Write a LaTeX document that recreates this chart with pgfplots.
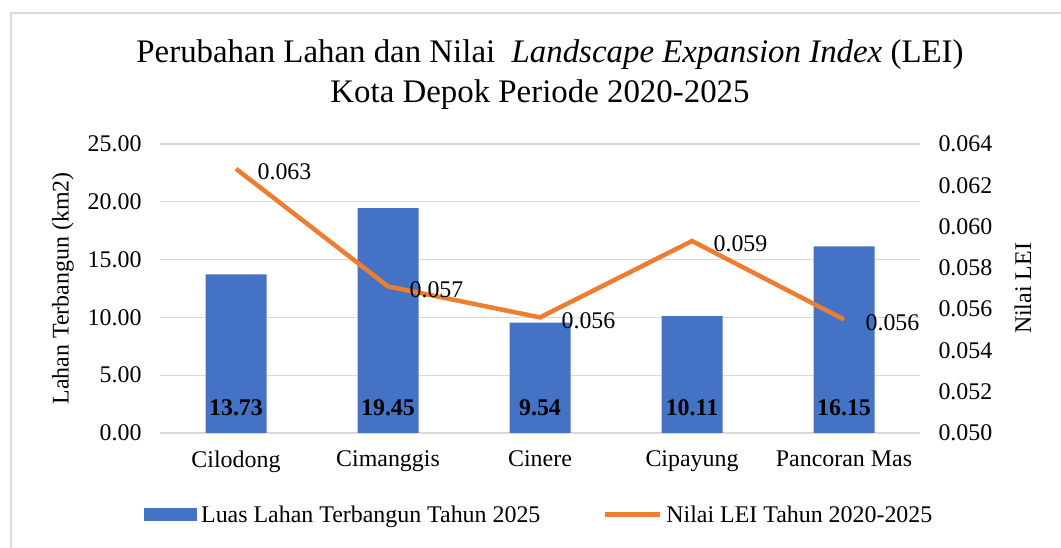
\documentclass[border=0pt]{standalone}
\usepackage{pgfplots}
\pgfplotsset{compat=1.18}
\usepackage{fontspec}
\setmainfont{Liberation Serif}
\definecolor{barblue}{HTML}{4472C4}
\definecolor{lineorange}{HTML}{ED7D31}
\definecolor{gridgray}{HTML}{D9D9D9}
\begin{document}
\begin{tikzpicture}[x=1bp,y=1bp]
\path[use as bounding box] (0,0) rectangle (1061,548);
\draw[gridgray, line width=1.5bp] (11,0) -- (11,535) -- (1061,535);
\node[anchor=base, font=\fontsize{33}{38}\selectfont] at (550,485) {Perubahan Lahan dan Nilai\ \ \textit{Landscape Expansion Index} (LEI)};
\node[anchor=base, font=\fontsize{33}{38}\selectfont] at (540,445) {Kota Depok Periode 2020-2025};
\begin{axis}[
  at={(160bp,115bp)}, anchor=south west, width=760bp, height=289bp, scale only axis,
  xmin=-0.5, xmax=4.5, ymin=0, ymax=25,
  xtick={0,1,2,3,4}, xticklabels={Cilodong,Cimanggis,Cinere,Cipayung,Pancoran Mas},
  ytick={0,5,10,15,20,25},
  axis line style={draw=none},
  major tick length=0pt,
  ymajorgrids, grid style={gridgray, line width=1.2bp},
  scaled y ticks=false,
  /pgf/number format/fixed, /pgf/number format/fixed zerofill, /pgf/number format/precision=2,
  /pgf/number format/assume math mode=true,
  tick label style={font=\fontsize{24}{28}\selectfont},
  xticklabel style={yshift=-14bp},
  yticklabel style={xshift=-15bp},
  ylabel={Lahan Terbangun (km2)},
  ylabel style={at={(axis description cs:-0.1276,0.5)}, anchor=center, font=\fontsize{24}{28}\selectfont},
  legend columns=2,
  legend style={at={(axis description cs:0.4990,-0.2837)}, anchor=center, draw=none, fill=none,
    font=\fontsize{24}{28}\selectfont, column sep=2bp,
    /tikz/every even column/.append style={column sep=60bp}},
]
\addplot[ybar, bar width=61bp, fill=barblue, draw=none,
  legend image code/.code={\fill[barblue] (0bp,-6.5bp) rectangle (53bp,6.5bp);}]
  coordinates {(0,13.73) (1,19.45) (2,9.54) (3,10.11) (4,16.15)};
\addlegendentry{Luas Lahan Terbangun Tahun 2025}
\addplot[draw=none, mark=none, forget plot, nodes near coords, point meta=explicit symbolic,
  every node near coord/.append style={anchor=center, yshift=25bp, text=black,
    font=\bfseries\fontsize{24}{28}\selectfont}]
  table[meta=lab] {
x y lab
0 0 13.73
1 0 19.45
2 0 9.54
3 0 10.11
4 0 16.15
};
\addlegendimage{legend image code/.code={\draw[lineorange, line width=5bp] (0bp,0bp) -- (55bp,0bp);}}
\addlegendentry{Nilai LEI Tahun 2020-2025}
\end{axis}
\begin{axis}[
  at={(160bp,115bp)}, anchor=south west, width=760bp, height=289bp, scale only axis,
  xmin=-0.5, xmax=4.5, ymin=0.05, ymax=0.064,
  ytick={0.050,0.052,0.054,0.056,0.058,0.060,0.062,0.064},
  axis x line=none, axis y line*=right, axis line style={draw=none},
  major tick length=0pt,
  scaled y ticks=false,
  /pgf/number format/fixed, /pgf/number format/fixed zerofill, /pgf/number format/precision=3,
  /pgf/number format/assume math mode=true,
  tick label style={font=\fontsize{24}{28}\selectfont},
  yticklabel style={xshift=15bp},
  ylabel={Nilai LEI},
  ylabel style={at={(axis description cs:1.1355,0.5)}, anchor=center, rotate=0, font=\fontsize{24}{28}\selectfont},
]
\addplot[lineorange, line width=4.5bp, mark=none, nodes near coords, point meta=explicit symbolic,
  every node near coord/.append style={anchor=west, xshift=16bp, yshift=-3bp, text=black,
    font=\fontsize{24}{28}\selectfont}]
  table[meta=lab] {
x y lab
0 0.0628 0.063
1 0.0571 0.057
2 0.0556 0.056
3 0.0593 0.059
4 0.0555 0.056
};
\end{axis}
\end{tikzpicture}
\end{document}
